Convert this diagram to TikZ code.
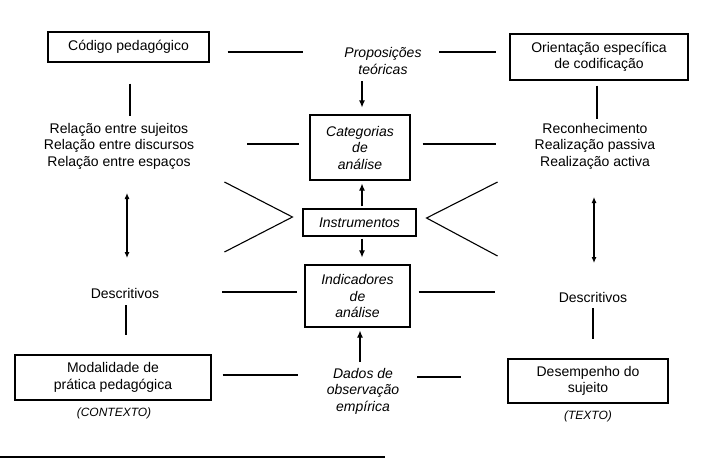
\documentclass[tikz,border=0pt]{standalone}
\usepackage{fontspec}
\setmainfont{Liberation Sans}
\usetikzlibrary{arrows.meta,calc}
\begin{document}
\begin{tikzpicture}[x=1pt,y=-1pt,
  every node/.style={font=\fontsize{14}{16.5}\selectfont, align=center, inner sep=0pt},
  box/.style={draw, line width=1.1pt},
  it/.style={font=\fontsize{14}{16.5}\selectfont\itshape},
  sm/.style={font=\fontsize{12}{14}\selectfont\itshape},
  ln/.style={line width=1.1pt},
  arr/.style={line width=1.1pt, -{Latex[length=7pt,width=6pt]}},
  darr/.style={line width=1.1pt, {Latex[length=6pt,width=5pt]}-{Latex[length=6pt,width=5pt]}}
]
\useasboundingbox (0,0) rectangle (711,461);

% nodes
\node[box, minimum width=161pt, minimum height=30pt] (cod) at (128.5,47) {Código pedagógico};
\node[it] (prop) at (383,61) {Proposições\\teóricas};
\node[box, minimum width=178pt, minimum height=46pt] (ori) at (599,57) {Orientação específica\\de codificação};
\node[box, it, minimum width=100pt, minimum height=65pt] (cat) at (360,147.5) {Categorias\\de\\análise};
\node (rel) at (119,146) {Relação entre sujeitos\\Relação entre discursos\\Relação entre espaços};
\node (rec) at (595,146) {Reconhecimento\\Realização passiva\\Realização activa};
\node[box, it, minimum width=113pt, minimum height=27pt] (ins) at (359.5,222.5) {Instrumentos};
\node[box, it, minimum width=105pt, minimum height=62pt] (ind) at (357.5,296) {Indicadores\\de\\análise};
\node (desL) at (125,293) {Descritivos};
\node (desR) at (593,297) {Descritivos};
\node[box, minimum width=196pt, minimum height=45pt] (mod) at (113,377.5) {Modalidade de\\prática pedagógica};
\node[sm] (ctx) at (114,413) {(CONTEXTO)};
\node[it] (dad) at (363,391) {Dados de\\observação\\empírica};
\node[box, minimum width=160pt, minimum height=44pt] (dsp) at (588,381) {Desempenho do\\sujeito};
\node[sm] (txt) at (588,416) {(TEXTO)};

% connectors
\draw[ln] ($(cod.east)+(18,5)$) -- ($(cod.east)+(93,5)$);
\draw[ln] ($(ori.west)+(-70,-5)$) -- ($(ori.west)+(-13,-5)$);
\draw[arr] ($(cat.north)+(2,-33)$) -- ($(cat.north)+(2,-7)$);
\draw[ln] ($(cod.south)+(1.5,21)$) -- ($(cod.south)+(1.5,53)$);
\draw[ln] ($(ori.south)+(-2,5)$) -- ($(ori.south)+(-2,38)$);
\draw[ln] ($(cat.west)+(-62,-3.5)$) -- ($(cat.west)+(-10,-3.5)$);
\draw[ln] ($(cat.east)+(12,-3.5)$) -- ($(cat.east)+(85,-3.5)$);
\draw[arr] ($(ins.north)+(2.5,-2)$) -- ($(cat.south)+(2,3)$);
\draw[arr] ($(ins.south)+(2.5,2)$) -- ($(ind.north)+(4.5,-7)$);

\coordinate (apL) at ($(ins.west)+(-10,-5.5)$);
\coordinate (apR) at ($(ins.east)+(10,-4.5)$);
\draw[ln] ($(apL)+(-68,-35)$) -- (apL) -- ($(apL)+(-68,35)$);
\draw[ln] ($(apR)+(71,-36)$) -- (apR) -- ($(apR)+(71,38)$);

\draw[darr] ($(rel.center)+(8,47)$) -- ($(desL.center)+(2,-35)$);
\draw[darr] ($(rec.center)+(-1,51)$) -- ($(desR.center)+(1,-34)$);

\draw[ln] ($(desL.center)+(97,-1)$) -- ($(ind.west)+(-7,-4)$);
\draw[ln] ($(ind.east)+(8,-4)$) -- ($(desR.center)+(-98,-5)$);
\draw[ln] ($(desL.center)+(1,12)$) -- ($(mod.north)+(13,-19.5)$);
\draw[ln] ($(desR.center)+(0,11)$) -- ($(dsp.north)+(5,-19)$);
\draw[ln] ($(mod.east)+(11,-2.5)$) -- ($(mod.east)+(86,-2.5)$);
\draw[arr] ($(dad.center)+(-3,-29)$) -- ($(ind.south)+(2.5,3)$);
\draw[ln] ($(dsp.west)+(-90,-4)$) -- ($(dsp.west)+(-46,-4)$);

% page rule
\draw[line width=2pt] (0,457) -- (385,457);
\end{tikzpicture}
\end{document}
